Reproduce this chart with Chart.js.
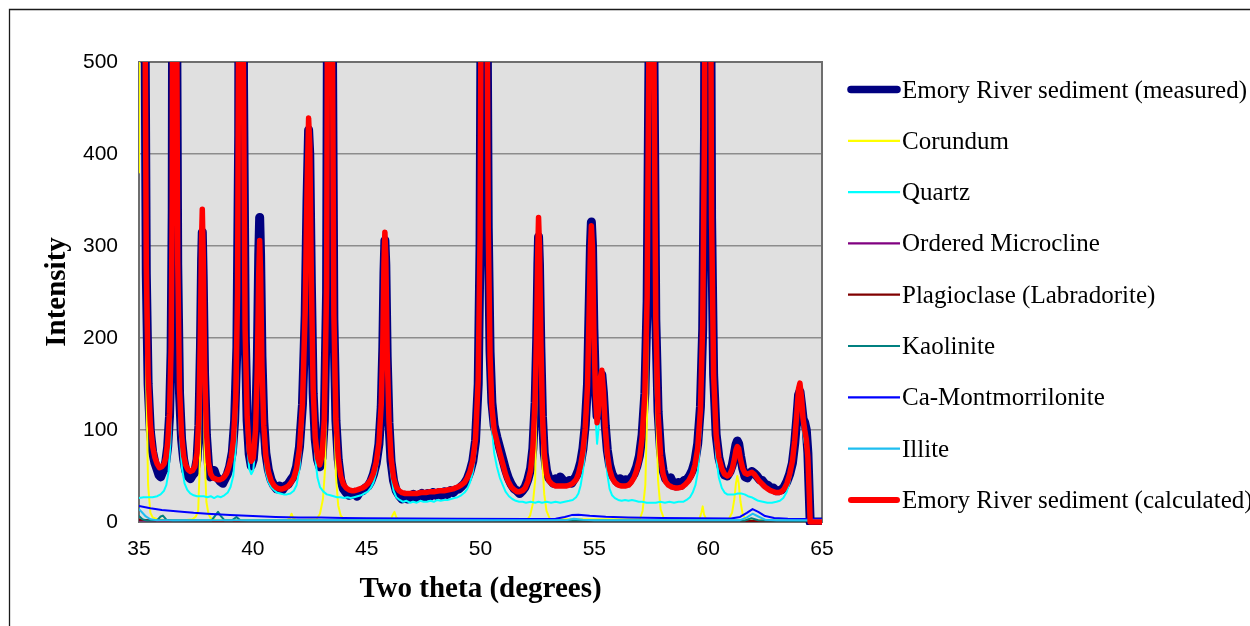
<!DOCTYPE html>
<html>
<head>
<meta charset="utf-8">
<script src="https://cdn.jsdelivr.net/npm/chart.js@4.4.1/dist/chart.umd.min.js"></script>
<style>
  html, body { margin: 0; padding: 0; background: #ffffff; overflow: hidden; }
  canvas { display: block; }
</style>
</head>
<body>
<canvas id="c" width="1250" height="626"></canvas>
<script>
// ---- Data (two-theta in degrees, intensity) ----
const xTicks = [35, 40, 45, 50, 55, 60, 65];
const yTicks = [0, 100, 200, 300, 400, 500];

const seriesNames = [
  "Emory River sediment (measured)", "Corundum", "Quartz", "Ordered Microcline",
  "Plagioclase (Labradorite)", "Kaolinite", "Ca-Montmorrilonite", "Illite",
  "Emory River sediment (calculated)"
];

const measured = [[35.00,620],[35.05,900],[35.10,1500],[35.15,2000],[35.20,1300],[35.25,620],[35.32,270],[35.40,150],[35.50,98],[35.60,76],[35.70,64],[35.80,57],[35.88,51],[35.95,49],[36.03,54],[36.10,57],[36.18,66],[36.26,82],[36.34,115],[36.41,185],[36.46,340],[36.50,900],[36.54,1700],[36.58,1500],[36.63,700],[36.70,280],[36.78,140],[36.87,90],[36.96,68],[37.05,56],[37.15,50],[37.25,47],[37.35,51],[37.45,54],[37.55,68],[37.63,105],[37.70,190],[37.75,285],[37.78,315],[37.82,265],[37.88,160],[37.96,95],[38.05,62],[38.13,49],[38.22,53],[38.30,56],[38.38,50],[38.48,47],[38.58,44],[38.68,42],[38.78,47],[38.88,52],[38.98,60],[39.10,76],[39.20,110],[39.30,190],[39.38,420],[39.44,1300],[39.48,1800],[39.53,1200],[39.59,480],[39.67,200],[39.75,110],[39.84,74],[39.93,61],[40.02,68],[40.12,100],[40.20,180],[40.26,290],[40.30,331],[40.34,290],[40.40,180],[40.48,110],[40.57,75],[40.68,57],[40.80,46],[40.92,40],[41.05,36],[41.18,39],[41.30,35],[41.42,39],[41.55,41],[41.68,46],[41.80,50],[41.92,60],[42.05,82],[42.18,128],[42.30,225],[42.38,350],[42.45,426],[42.50,400],[42.57,260],[42.65,140],[42.74,90],[42.84,68],[42.94,60],[43.04,70],[43.14,110],[43.24,250],[43.31,800],[43.37,1800],[43.42,1500],[43.48,600],[43.56,220],[43.65,110],[43.75,68],[43.86,46],[43.98,36],[44.10,32],[44.22,29],[44.34,30],[44.46,32],[44.58,28],[44.70,33],[44.82,34],[44.94,37],[45.06,39],[45.18,44],[45.30,52],[45.42,64],[45.54,85],[45.64,125],[45.71,190],[45.76,270],[45.80,306],[45.84,280],[45.90,180],[45.98,108],[46.07,66],[46.18,45],[46.30,34],[46.42,29],[46.55,25],[46.68,29],[46.80,25],[46.92,28],[47.05,30],[47.18,26],[47.30,29],[47.42,31],[47.55,27],[47.68,31],[47.80,28],[47.92,32],[48.05,29],[48.18,32],[48.30,29],[48.42,33],[48.55,30],[48.68,34],[48.80,32],[48.92,35],[49.05,36],[49.18,39],[49.30,42],[49.42,47],[49.54,55],[49.66,66],[49.78,88],[49.90,150],[49.98,300],[50.05,700],[50.11,1700],[50.16,1900],[50.21,1200],[50.27,650],[50.34,320],[50.42,185],[50.50,130],[50.60,105],[50.72,92],[50.85,80],[50.98,68],[51.10,57],[51.22,48],[51.35,41],[51.48,36],[51.60,34],[51.72,31],[51.84,34],[51.96,38],[52.08,46],[52.20,58],[52.30,80],[52.40,130],[52.47,200],[52.52,280],[52.55,310],[52.59,280],[52.65,190],[52.72,115],[52.80,75],[52.90,56],[53.00,48],[53.10,45],[53.20,42],[53.30,47],[53.40,44],[53.50,49],[53.60,46],[53.70,42],[53.80,43],[53.90,45],[54.00,42],[54.10,46],[54.20,50],[54.30,56],[54.40,65],[54.50,80],[54.60,105],[54.70,150],[54.77,230],[54.83,300],[54.87,326],[54.92,300],[54.98,210],[55.05,145],[55.12,115],[55.18,125],[55.25,150],[55.33,160],[55.40,140],[55.48,105],[55.57,78],[55.67,62],[55.78,52],[55.90,47],[56.02,43],[56.14,47],[56.26,43],[56.38,46],[56.50,43],[56.62,48],[56.74,52],[56.86,60],[56.98,72],[57.10,95],[57.22,140],[57.32,240],[57.40,500],[57.46,1300],[57.51,1800],[57.56,1200],[57.62,500],[57.70,220],[57.80,120],[57.91,76],[58.02,56],[58.13,47],[58.24,44],[58.35,48],[58.46,42],[58.58,39],[58.70,43],[58.82,40],[58.94,45],[59.06,46],[59.18,50],[59.30,56],[59.42,66],[59.54,85],[59.66,125],[59.76,210],[59.84,420],[59.90,1100],[59.96,1800],[60.02,1500],[60.08,800],[60.15,330],[60.24,160],[60.35,95],[60.47,70],[60.60,57],[60.72,51],[60.84,50],[60.96,55],[61.06,62],[61.15,74],[61.22,84],[61.28,88],[61.34,85],[61.42,72],[61.52,58],[61.62,49],[61.72,48],[61.82,52],[61.92,55],[62.02,53],[62.14,50],[62.26,46],[62.38,45],[62.50,41],[62.62,40],[62.74,37],[62.86,37],[62.98,34],[63.10,34],[63.22,35],[63.34,38],[63.46,44],[63.58,52],[63.70,64],[63.80,85],[63.90,115],[63.97,138],[64.03,142],[64.10,128],[64.17,112],[64.24,108],[64.31,100],[64.38,75],[64.44,30],[64.48,0],[65.00,0]];

const calculated = [[35.00,600],[35.05,880],[35.10,1500],[35.15,2000],[35.20,1300],[35.25,630],[35.32,280],[35.40,160],[35.50,105],[35.60,82],[35.70,70],[35.80,63],[35.90,59],[36.00,60],[36.10,63],[36.18,70],[36.26,86],[36.34,118],[36.41,190],[36.46,350],[36.50,900],[36.54,1700],[36.58,1500],[36.63,700],[36.70,285],[36.78,145],[36.87,95],[36.96,72],[37.05,62],[37.15,57],[37.25,55],[37.35,56],[37.45,60],[37.55,75],[37.63,115],[37.70,210],[37.75,310],[37.78,340],[37.82,290],[37.88,170],[37.96,98],[38.05,65],[38.15,52],[38.25,48],[38.35,47],[38.45,46],[38.55,46],[38.65,47],[38.75,49],[38.85,53],[38.95,60],[39.05,70],[39.15,90],[39.25,135],[39.33,250],[39.40,700],[39.46,1800],[39.52,1300],[39.58,520],[39.66,210],[39.75,115],[39.84,78],[39.93,66],[40.02,70],[40.12,100],[40.20,170],[40.26,270],[40.30,306],[40.34,270],[40.40,170],[40.48,105],[40.57,72],[40.68,55],[40.80,45],[40.92,40],[41.05,37],[41.18,36],[41.30,36],[41.42,37],[41.55,39],[41.68,43],[41.80,48],[41.92,58],[42.05,80],[42.18,128],[42.30,230],[42.38,360],[42.45,439],[42.50,410],[42.57,265],[42.65,145],[42.74,92],[42.84,70],[42.94,62],[43.04,72],[43.14,112],[43.24,255],[43.31,800],[43.37,1800],[43.42,1500],[43.48,600],[43.56,225],[43.65,112],[43.75,70],[43.86,50],[43.98,41],[44.10,37],[44.22,35],[44.34,34],[44.46,34],[44.58,35],[44.70,36],[44.82,37],[44.94,39],[45.06,42],[45.18,46],[45.30,53],[45.42,65],[45.54,86],[45.64,128],[45.71,195],[45.76,280],[45.80,315],[45.84,288],[45.90,185],[45.98,110],[46.07,70],[46.18,48],[46.30,38],[46.42,34],[46.55,32],[46.70,31],[46.85,31],[47.00,31],[47.20,31],[47.40,32],[47.60,32],[47.80,33],[48.00,33],[48.20,34],[48.40,34],[48.60,35],[48.80,36],[49.00,38],[49.15,40],[49.30,43],[49.42,48],[49.54,55],[49.66,67],[49.78,90],[49.90,155],[49.98,310],[50.05,700],[50.11,1700],[50.16,1900],[50.21,1200],[50.27,650],[50.34,320],[50.42,180],[50.50,125],[50.60,100],[50.72,88],[50.85,75],[50.98,63],[51.10,52],[51.22,44],[51.35,38],[51.48,35],[51.60,33],[51.72,33],[51.84,34],[51.96,37],[52.08,44],[52.20,56],[52.30,80],[52.40,135],[52.47,215],[52.52,300],[52.55,331],[52.59,300],[52.65,200],[52.72,118],[52.80,74],[52.90,53],[53.00,45],[53.15,41],[53.30,39],[53.45,39],[53.60,39],[53.75,39],[53.90,40],[54.05,42],[54.20,46],[54.30,52],[54.40,62],[54.50,77],[54.60,102],[54.70,148],[54.77,228],[54.83,298],[54.87,322],[54.92,298],[54.98,208],[55.05,140],[55.12,108],[55.18,122],[55.25,155],[55.33,165],[55.40,142],[55.48,103],[55.57,74],[55.67,57],[55.78,48],[55.90,43],[56.05,40],[56.20,39],[56.35,39],[56.50,40],[56.62,43],[56.74,48],[56.86,56],[56.98,68],[57.10,92],[57.22,140],[57.32,245],[57.40,520],[57.46,1300],[57.51,1800],[57.56,1200],[57.62,500],[57.70,220],[57.80,118],[57.91,72],[58.02,52],[58.13,44],[58.25,40],[58.40,38],[58.55,37],[58.70,37],[58.85,38],[59.00,41],[59.15,45],[59.30,52],[59.42,62],[59.54,80],[59.66,122],[59.76,215],[59.84,430],[59.90,1100],[59.96,1800],[60.02,1500],[60.08,800],[60.15,330],[60.24,160],[60.35,95],[60.47,70],[60.60,58],[60.72,52],[60.84,50],[60.96,52],[61.06,58],[61.15,68],[61.22,78],[61.28,82],[61.34,80],[61.42,68],[61.52,58],[61.62,53],[61.72,52],[61.82,53],[61.92,54],[62.02,52],[62.14,48],[62.26,44],[62.38,41],[62.50,38],[62.62,36],[62.74,34],[62.86,33],[62.98,32],[63.10,32],[63.22,33],[63.34,36],[63.46,42],[63.58,52],[63.70,66],[63.80,88],[63.90,120],[63.97,145],[64.03,151],[64.10,135],[64.17,112],[64.24,100],[64.31,90],[64.38,70],[64.44,30],[64.48,0],[65.00,0]];

const quartz = [[35.00,26],[35.20,27],[35.40,27],[35.60,27],[35.80,28],[35.95,30],[36.10,34],[36.20,40],[36.30,55],[36.38,85],[36.44,160],[36.50,700],[36.54,1600],[36.58,1400],[36.63,600],[36.70,220],[36.78,100],[36.88,60],[37.00,42],[37.12,35],[37.25,31],[37.40,29],[37.55,28],[37.70,28],[37.85,28],[38.00,27],[38.15,28],[38.30,26],[38.45,28],[38.60,27],[38.75,29],[38.90,32],[39.02,38],[39.14,50],[39.24,78],[39.33,160],[39.40,600],[39.46,1700],[39.52,1200],[39.58,450],[39.66,170],[39.75,85],[39.84,58],[39.93,52],[40.02,56],[40.12,85],[40.20,150],[40.26,250],[40.30,285],[40.34,250],[40.40,150],[40.48,85],[40.57,55],[40.68,44],[40.80,38],[40.92,35],[41.05,32],[41.20,31],[41.35,30],[41.50,30],[41.65,31],[41.80,34],[41.92,40],[42.05,58],[42.18,105],[42.30,205],[42.38,335],[42.45,415],[42.50,385],[42.57,240],[42.65,120],[42.74,70],[42.84,48],[42.95,38],[43.10,33],[43.25,30],[43.40,29],[43.55,28],[43.70,27],[43.85,27],[44.00,26],[44.15,27],[44.30,26],[44.45,27],[44.60,28],[44.75,29],[44.90,31],[45.05,33],[45.18,37],[45.30,43],[45.42,54],[45.54,74],[45.64,112],[45.71,175],[45.76,255],[45.80,290],[45.84,265],[45.90,165],[45.98,92],[46.07,52],[46.18,34],[46.30,27],[46.45,24],[46.60,22],[46.75,23],[46.90,21],[47.05,22],[47.20,21],[47.35,23],[47.50,22],[47.65,22],[47.80,23],[47.95,22],[48.10,24],[48.25,23],[48.40,24],[48.55,24],[48.70,25],[48.85,26],[49.00,27],[49.15,29],[49.30,32],[49.42,36],[49.54,43],[49.66,54],[49.78,76],[49.90,140],[49.98,290],[50.05,680],[50.11,1650],[50.16,1850],[50.21,1150],[50.27,620],[50.34,300],[50.42,160],[50.50,102],[50.60,75],[50.72,60],[50.85,48],[50.98,40],[51.10,33],[51.25,28],[51.40,25],[51.55,23],[51.70,22],[51.85,22],[52.00,21],[52.20,22],[52.40,21],[52.55,22],[52.70,21],[52.90,22],[53.10,21],[53.30,22],[53.50,21],[53.70,22],[53.90,23],[54.05,24],[54.20,27],[54.30,31],[54.40,40],[54.50,55],[54.60,80],[54.70,125],[54.77,205],[54.83,275],[54.87,300],[54.92,275],[54.98,185],[55.05,115],[55.12,85],[55.18,100],[55.25,135],[55.33,148],[55.40,125],[55.48,82],[55.57,52],[55.67,36],[55.78,29],[55.90,26],[56.05,24],[56.20,23],[56.35,24],[56.50,23],[56.65,24],[56.80,23],[56.95,22],[57.10,22],[57.30,21],[57.50,21],[57.70,21],[57.90,22],[58.10,21],[58.30,22],[58.50,21],[58.70,22],[58.90,22],[59.05,24],[59.20,27],[59.32,32],[59.44,40],[59.55,55],[59.66,95],[59.76,185],[59.84,400],[59.90,1050],[59.96,1750],[60.02,1450],[60.08,760],[60.15,300],[60.24,135],[60.35,72],[60.47,48],[60.60,37],[60.72,32],[60.84,30],[61.00,30],[61.15,30],[61.30,31],[61.45,31],[61.60,30],[61.75,28],[61.90,27],[62.05,25],[62.20,23],[62.40,22],[62.60,21],[62.80,21],[63.00,22],[63.15,23],[63.30,26],[63.44,32],[63.56,42],[63.68,58],[63.80,80],[63.90,108],[63.97,128],[64.03,133],[64.10,118],[64.17,98],[64.24,86],[64.31,78],[64.38,58],[64.44,22],[64.48,0],[65.00,0]];

const corundum = [[35.00,380],[35.05,900],[35.10,1700],[35.15,1900],[35.20,1100],[35.25,450],[35.32,150],[35.40,40],[35.50,10],[35.60,5],[35.80,3],[36.20,2],[37.00,2],[37.35,3],[37.50,6],[37.60,12],[37.68,70],[37.73,190],[37.78,295],[37.83,190],[37.88,75],[37.96,22],[38.05,9],[38.15,4],[38.40,2],[41.50,2],[41.62,4],[41.70,9],[41.78,4],[41.90,2],[42.80,3],[42.95,9],[43.08,25],[43.18,60],[43.26,250],[43.31,900],[43.37,1700],[43.42,1400],[43.48,500],[43.56,150],[43.65,50],[43.75,18],[43.86,7],[44.00,3],[46.05,2],[46.15,8],[46.22,11],[46.30,5],[46.45,2],[52.05,2],[52.18,7],[52.30,20],[52.40,45],[52.47,150],[52.52,270],[52.55,300],[52.59,260],[52.65,150],[52.72,65],[52.80,30],[52.90,12],[53.05,3],[57.00,3],[57.12,12],[57.24,40],[57.32,120],[57.40,450],[57.46,1250],[57.51,1700],[57.56,1100],[57.62,420],[57.70,140],[57.80,45],[57.91,14],[58.05,4],[58.20,2],[59.60,2],[59.70,10],[59.76,17],[59.82,8],[59.92,3],[60.90,3],[61.05,10],[61.15,25],[61.22,42],[61.28,50],[61.34,42],[61.42,22],[61.52,8],[61.65,3],[62.00,2],[65.00,2]];

const microcline = [[35.0,1.5],[38.0,1.2],[42.0,1.3],[46.0,1.0],[50.3,1.2],[50.5,2.8],[50.7,1.2],[55.0,1.0],[60.0,1.0],[65.0,1.0]];
const plagioclase = [[35.0,2.5],[35.4,1.8],[36.0,1.5],[38.0,1.2],[42.0,1.2],[47.0,1.0],[52.0,1.0],[56.0,1.2],[60.0,1.0],[65.0,1.0]];
const kaolinite = [[35.0,6.5],[35.15,3],[35.35,1.5],[35.8,2],[35.95,6],[36.05,7],[36.2,2.5],[36.5,1.5],[38.2,2],[38.38,8],[38.47,11],[38.58,7],[38.75,2],[39.1,2],[39.28,5.5],[39.45,2],[39.8,1.5],[42.0,1.5],[45.5,1.5],[50.0,1.5],[55.0,1.5],[61.6,1.5],[61.9,4],[62.2,2],[62.5,1.5],[65.0,1.2]];
const montmorillonite = [[35.0,17.5],[35.5,15],[36.0,13],[37.0,11],[37.4,10],[38.0,9],[39.0,7.5],[40.0,6.5],[41.0,5.5],[42.0,5],[43.0,4.8],[44.0,4.3],[45.0,4],[47.0,3.7],[49.0,3.4],[52.0,3.3],[53.3,3.6],[53.7,5.5],[54.0,7.5],[54.3,7.8],[54.8,6.8],[55.5,5.8],[56.5,5],[58.0,4.3],[59.5,4],[61.0,3.9],[61.4,5.5],[61.7,10],[61.95,14],[62.2,11],[62.5,6.5],[62.9,4.3],[63.5,3.6],[65.0,3]];
const illite = [[35.0,14],[35.15,10],[35.3,6],[35.5,3],[35.8,2],[38.0,2],[40.0,1.8],[45.0,1.8],[50.0,1.8],[53.8,2.2],[54.1,3.5],[54.5,2.5],[55.0,2],[61.4,2],[61.7,5],[61.95,9],[62.2,6],[62.5,2.5],[63.0,2],[65.0,2]];

// ---- Styling ----
const seriesData   = [measured, corundum, quartz, microcline, plagioclase, kaolinite, montmorillonite, illite, calculated];
const seriesColors = ['#000080', '#FFFF00', '#00FFFF', '#800080', '#800000', '#008080', '#0000FF', '#1EBEF0', '#FF0000'];
const seriesWidths = [9, 2, 2, 2, 2, 2, 2, 2, 5.5];
const legendWidths = [7.5, 2.2, 2.2, 2.2, 2.2, 2.2, 2.2, 2.2, 6];

const toPts = arr => arr.map(([x, y]) => ({x, y}));

const datasets = seriesNames.map((name, i) => ({
  label: name,
  data: toPts(seriesData[i]),
  borderColor: seriesColors[i],
  backgroundColor: seriesColors[i],
  borderWidth: seriesWidths[i],
  pointRadius: 0,
  tension: 0,
  fill: false,
  borderJoinStyle: 'round',
  borderCapStyle: 'round',
  clip: {left: 0, top: 0, right: 0, bottom: 3},
  order: seriesNames.length - 1 - i   // first series drawn at the bottom, calculated on top
}));

const PLOT = {left: 139, top: 62, right: 822, bottom: 522};

const plotBackground = {
  id: 'plotBackground',
  beforeDraw(chart) {
    const {ctx, chartArea: a} = chart;
    ctx.save();
    ctx.fillStyle = '#ffffff';
    ctx.fillRect(0, 0, chart.width, chart.height);
    ctx.fillStyle = '#E0E0E0';
    ctx.fillRect(a.left, a.top, a.right - a.left, a.bottom - a.top);
    ctx.restore();
  },
  beforeDatasetsDraw(chart) {
    const {ctx, chartArea: a} = chart;
    ctx.save();
    ctx.strokeStyle = '#6E6E6E';
    ctx.lineWidth = 2;
    ctx.beginPath();
    ctx.moveTo(a.left, a.top); ctx.lineTo(a.right, a.top); ctx.lineTo(a.right, a.bottom);
    ctx.stroke();
    ctx.restore();
  },
  afterDraw(chart) {
    const ctx = chart.ctx;
    ctx.save();
    // outer frame
    ctx.strokeStyle = '#1a1a1a';
    ctx.lineWidth = 1.3;
    ctx.beginPath();
    ctx.moveTo(9.5, chart.height + 5); ctx.lineTo(9.5, 9.5); ctx.lineTo(chart.width + 5, 9.5);
    ctx.stroke();
    // legend
    const x0 = 848, x1 = 900, y0 = 89.5, dy = 51.3;
    ctx.font = '25px "Liberation Serif", "Times New Roman", serif';
    ctx.textAlign = 'left';
    ctx.textBaseline = 'alphabetic';
    seriesNames.forEach((name, i) => {
      const y = y0 + i * dy;
      ctx.strokeStyle = seriesColors[i];
      ctx.lineWidth = legendWidths[i];
      ctx.lineCap = legendWidths[i] > 4 ? 'round' : 'butt';
      ctx.beginPath();
      ctx.moveTo(x0 + (legendWidths[i] > 4 ? 3 : 0), y);
      ctx.lineTo(x1 - (legendWidths[i] > 4 ? 3 : 0), y);
      ctx.stroke();
      ctx.fillStyle = '#000000';
      ctx.fillText(name, 902, y + 8);
    });
    ctx.restore();
  }
};

Chart.defaults.font.family = '"Liberation Sans", Arial, sans-serif';
Chart.defaults.color = '#000000';

new Chart(document.getElementById('c'), {
  type: 'line',
  data: {datasets},
  options: {
    responsive: false,
    animation: false,
    events: [],
    layout: {padding: {left: 0, top: PLOT.top, right: 1250 - PLOT.right, bottom: 0}},
    plugins: {legend: {display: false}, tooltip: {enabled: false}},
    scales: {
      x: {
        type: 'linear',
        min: xTicks[0], max: xTicks[xTicks.length - 1],
        afterBuildTicks(scale) { scale.ticks = xTicks.map(v => ({value: v})); },
        ticks: {font: {size: 21}, color: '#000', padding: 15, maxRotation: 0},
        grid: {display: false, drawTicks: false},
        border: {color: '#6E6E6E', width: 2},
        title: {display: true, text: 'Two theta (degrees)', color: '#000',
                font: {family: '"Liberation Serif", "Times New Roman", serif', size: 29, weight: 'bold'},
                padding: {top: 0, bottom: 19}},
        afterFit(scale) { scale.height = 626 - PLOT.bottom; }
      },
      y: {
        type: 'linear',
        min: yTicks[0], max: yTicks[yTicks.length - 1],
        afterBuildTicks(scale) { scale.ticks = yTicks.map(v => ({value: v})); },
        ticks: {font: {size: 21}, color: '#000', padding: 21},
        grid: {color: '#8C8C8C', lineWidth: 1.5, drawTicks: false},
        border: {color: '#6E6E6E', width: 2},
        title: {display: true, text: 'Intensity', color: '#000',
                font: {family: '"Liberation Serif", "Times New Roman", serif', size: 29, weight: 'bold'},
                padding: {top: 40, bottom: 0}},
        afterFit(scale) { scale.width = PLOT.left; }
      }
    }
  },
  plugins: [plotBackground]
});
</script>
</body>
</html>
